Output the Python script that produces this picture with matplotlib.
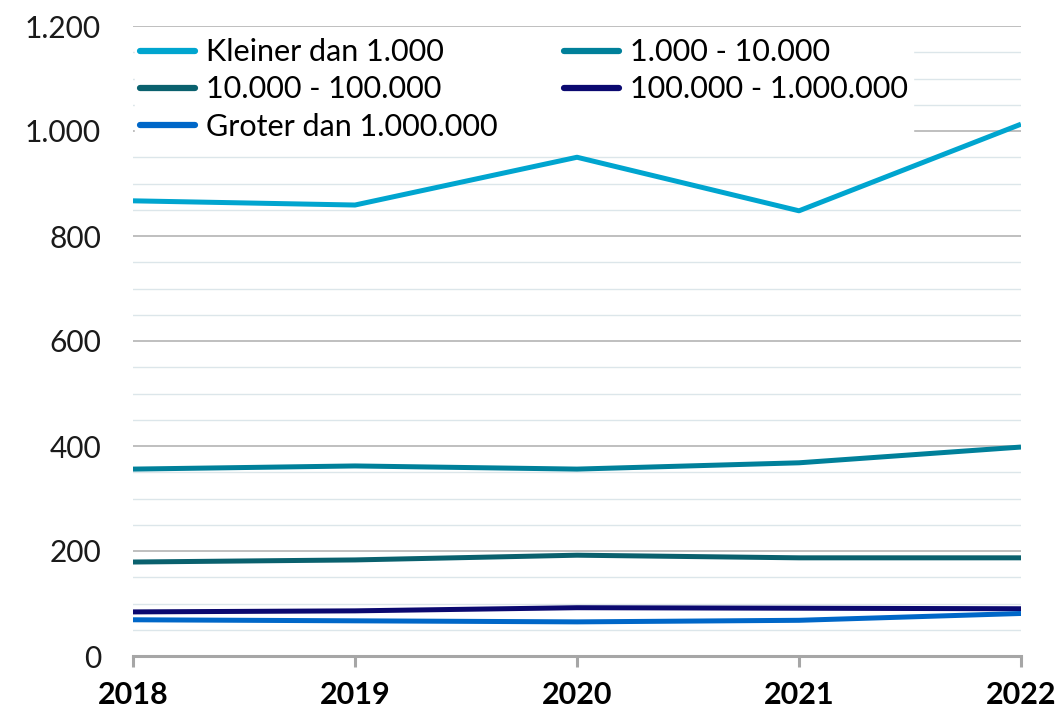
import matplotlib
matplotlib.use("Agg")
import matplotlib.pyplot as plt
from matplotlib.ticker import MultipleLocator, FuncFormatter

jaren = [2018, 2019, 2020, 2021, 2022]
kleiner_1000 = [867, 859, 950, 848, 1013]
van_1000_tot_10000 = [356, 362, 356, 368, 398]
van_10000_tot_100000 = [179, 183, 192, 187, 187]
van_100000_tot_1000000 = [84, 86, 92, 91, 90]
groter_1000000 = [69, 67, 65, 68, 81]

reeksen = [
    ("Kleiner dan 1.000", kleiner_1000, "#00A5CF"),
    ("1.000 - 10.000", van_1000_tot_10000, "#00809A"),
    ("10.000 - 100.000", van_10000_tot_100000, "#0A616E"),
    ("100.000 - 1.000.000", van_100000_tot_1000000, "#0B0970"),
    ("Groter dan 1.000.000", groter_1000000, "#0067C8"),
]

plt.rcParams['font.family'] = ['Lato', 'DejaVu Sans']

fig = plt.figure(figsize=(10.63, 7.11), dpi=100, facecolor='white')
ax = fig.add_axes([133 / 1063, 1 - 656 / 711, (1021 - 133) / 1063, (656 - 26) / 711])

lijnen = {}
for naam, waarden, kleur in reeksen:
    l, = ax.plot(jaren, waarden, color=kleur, lw=3.6, solid_capstyle='butt', zorder=3)
    lijnen[naam] = l

ax.set_xlim(2018, 2022)
ax.set_ylim(0, 1200)
ax.yaxis.set_major_locator(MultipleLocator(200))
ax.yaxis.set_minor_locator(MultipleLocator(50))
ax.yaxis.set_major_formatter(FuncFormatter(lambda v, p: f"{int(v):,}".replace(",", ".")))
ax.set_xticks(jaren)

ax.grid(axis='y', which='major', color='#B4B4B4', lw=1.2, zorder=0)
ax.grid(axis='y', which='minor', color='#DCE6EA', lw=1.0, zorder=0)
ax.set_axisbelow(True)

for s in ['top', 'right', 'left']:
    ax.spines[s].set_visible(False)
ax.spines['bottom'].set_color('#A6A6A6')
ax.spines['bottom'].set_linewidth(2.2)

ax.tick_params(axis='y', which='both', length=0, labelsize=21.5, pad=23, labelcolor='#1a1a1a')
ax.tick_params(axis='x', length=8, width=2.2, color='#A6A6A6', labelsize=22, pad=10)
for t in ax.get_xticklabels():
    t.set_fontweight('bold')

volgorde = ["Kleiner dan 1.000", "10.000 - 100.000", "Groter dan 1.000.000",
            "1.000 - 10.000", "100.000 - 1.000.000"]
leg = ax.legend([lijnen[n] for n in volgorde], volgorde, ncol=2, loc='upper left',
                bbox_to_anchor=(-0.006, 1.0), fontsize=22, frameon=True, framealpha=1,
                edgecolor='white', facecolor='white', fancybox=False,
                handlelength=1.8, handletextpad=0.35, columnspacing=2.2,
                labelspacing=0.3, borderpad=0.15, borderaxespad=0.25)
for h in leg.get_lines():
    h.set_linewidth(4.5)
    h.set_solid_capstyle('round')

fig.savefig("out.png", dpi=100, facecolor='white')
